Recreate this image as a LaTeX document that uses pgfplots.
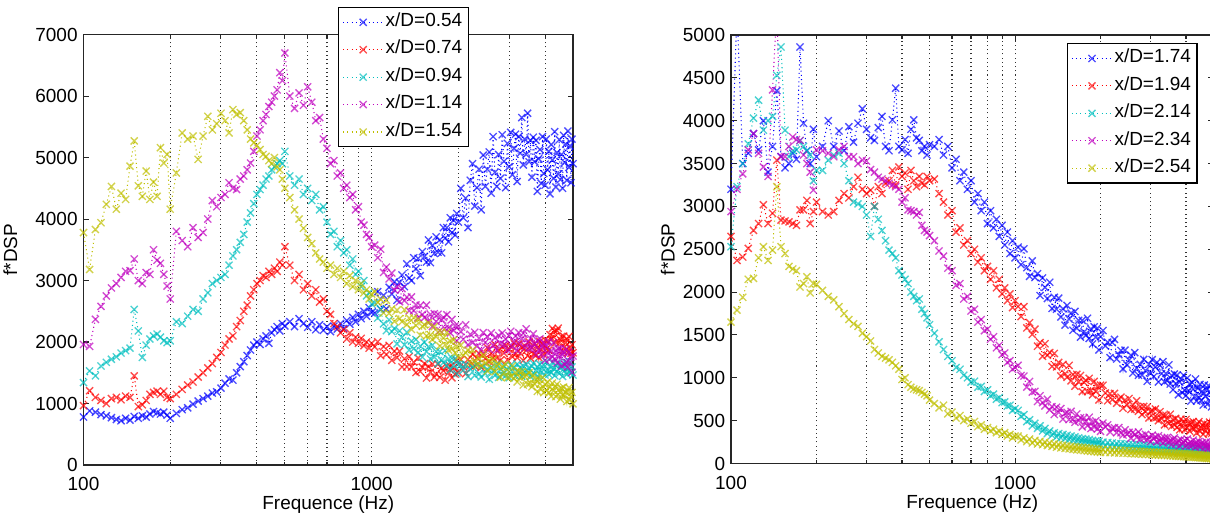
\documentclass[border=0pt]{standalone}
\usepackage{fontspec}
\setmainfont{Liberation Sans}
\usepackage{pgfplots}
\usepackage{pgfplotstable}
\pgfplotsset{compat=1.18}
\definecolor{mb}{rgb}{0,0,1}
\definecolor{mr}{rgb}{1,0,0}
\definecolor{mc}{rgb}{0,0.75,0.75}
\definecolor{mm}{rgb}{0.75,0,0.75}
\definecolor{my}{rgb}{0.75,0.75,0}

\pgfplotstableread{
f b r c m y
100 780 965 1340 1960 3780
105 880 1208 1530 1930 3180
110 860 1100 1450 2370 3830
115 820 1050 1610 2580 3940
120 800 1000 1670 2750 4240
125 770 1080 1720 2880 4530
130 740 1100 1760 2950 4160
135 720 1060 1820 3050 4420
140 760 1120 1860 3150 4320
145 730 1100 1900 3160 4860
150 790 1450 2530 3350 5270
155 760 950 2180 3000 4540
160 800 980 1750 2950 4370
165 780 1050 1950 3130 4780
170 830 1150 2050 3100 4320
175 870 1180 2100 3500 4600
180 850 1200 2130 3330 4370
185 830 1150 2080 3280 5160
190 860 1200 2020 3100 4910
195 810 1100 1990 2910 5050
200 760 1080 2020 2700 4160
210 840 1150 2330 3800 4750
220 900 1230 2300 3650 5400
230 930 1300 2420 3550 5300
240 990 1350 2530 3860 5350
250 1040 1430 2500 3700 4970
260 1080 1500 2700 3780 5350
270 1120 1580 2800 4000 5670
280 1170 1650 2950 4300 5450
290 1190 1750 3000 4200 5550
300 1250 1830 3050 4350 5720
310 1330 1950 3100 4400 5600
320 1400 2050 3250 4590 5400
330 1380 2100 3400 4500 5780
340 1500 2250 3500 4480 5700
350 1600 2350 3620 4650 5730
360 1680 2500 3750 4700 5600
370 1780 2600 3950 4800 5450
380 1870 2750 4100 4910 5300
390 1950 2850 4250 5100 5240
400 2000 2950 4400 5350 5200
410 1960 3000 4480 5450 5130
420 2050 3080 4550 5600 5050
430 2100 3050 4650 5700 5020
440 1980 3150 4700 5830 4950
450 2150 3100 4800 5900 4900
460 2200 3200 4850 6000 5000
470 2250 3150 4900 6100 4850
480 2180 3300 4950 6380 4800
490 2300 3250 4900 6250 4650
500 2260 3550 5100 6700 4500
520 2330 3250 4700 6000 4350
540 2250 3000 4550 5800 4150
560 2380 3100 4650 6050 4000
580 2300 2850 4400 5850 3850
600 2240 2950 4500 6150 3700
620 2330 2750 4300 5900 3600
640 2200 2850 4400 5600 3450
660 2280 2650 4150 5650 3350
680 2190 2700 4200 5300 3300
700 2250 2500 3950 5150 3200
720 2170 2450 3750 4900 3250
740 2260 2300 3800 4950 3100
760 2210 2250 3550 4700 3200
780 2300 2150 3650 4750 3050
800 2220 2200 3450 4500 3150
820 2350 2050 3500 4550 2950
840 2290 2150 3250 4350 3080
860 2400 2000 3350 4400 2900
880 2330 2080 3100 4150 3000
900 2450 1980 3150 4200 2850
920 2380 2060 2900 3950 2950
940 2500 1940 3000 3900 2800
960 2420 2000 2750 3750 2850
980 2560 1900 2800 3700 2700
1000 2480 1980 2620 3550 2780
1025 2470 1922 2635 3576 2820
1050 2820 2004 2390 3370 2645
1075 2530 1778 2535 3510 2695
1100 2760 1926 2295 3132 2475
1125 2540 1798 2185 3218 2680
1150 2890 1946 2360 3026 2465
1175 2780 1702 2170 3122 2540
1200 2980 1850 2220 2844 2335
1225 2680 1746 1970 2902 2520
1250 2970 1852 2180 2656 2380
1275 3090 1594 2075 2868 2330
1300 2900 1728 1955 2674 2525
1325 3270 1596 2160 2730 2285
1350 3040 1763 1870 2508 2390
1375 3000 1594 2015 2734 2205
1400 3370 1672 1890 2512 2395
1425 3190 1503 2040 2604 2270
1450 3360 1740 1830 2392 2370
1475 3080 1520 1935 2596 2110
1500 3470 1589 1755 2448 2255
1525 3390 1649 1995 2396 2280
1550 3300 1415 1845 2600 2100
1575 3660 1601 1920 2340 2310
1600 3290 1507 1725 2448 2115
1625 3570 1642 1950 2252 2040
1650 3440 1427 1755 2461 2250
1675 3710 1478 1845 2334 2085
1700 3460 1641 1650 2452 2160
1725 3660 1426 1845 2186 1935
1750 3450 1578 1710 2357 2160
1775 3860 1534 1665 2400 2065
1800 3690 1380 1860 2222 1955
1825 3860 1608 1620 2444 2160
1850 3630 1501 1725 2232 1870
1875 4020 1604 1545 2148 2015
1900 3780 1418 1740 2368 1890
1925 3980 1582 1625 2188 2035
1950 3740 1478 1735 2264 1825
1975 4090 1695 1485 2020 1930
2000 3950 1504 1640 2256 1750
2040 4500 1715 1632 2167 1951
2080 4020 1600 1543 2045 1785
2120 4340 1485 1634 2280 1826
2160 3860 1715 1437 1954 1868
2200 4630 1615 1564 2126 1663
2240 4900 1800 1595 1990 1873
2280 4210 1610 1458 2159 1694
2320 4510 1742 1633 1932 1616
2360 4810 1815 1484 2062 1734
2400 4150 1587 1431 1869 1617
2440 5040 1810 1606 2152 1787
2480 4530 1732 1487 1993 1657
2520 4810 1910 1560 2089 1528
2560 5090 1682 1394 1881 1697
2600 4420 1815 1587 2148 1581
2640 5340 1745 1528 1947 1712
2680 4760 1960 1457 2068 1518
2720 4530 1740 1639 1867 1609
2760 5050 1865 1424 2107 1649
2800 4660 1705 1557 1974 1429
2840 5370 1920 1474 2146 1599
2880 4940 1820 1608 1962 1508
2920 4510 1945 1453 2049 1639
2960 5230 1710 1550 1865 1419
3000 4850 1880 1419 2105 1514
3040 5410 1925 1625 2175 1440
3080 4720 1760 1518 1923 1613
3120 5150 1985 1591 2010 1408
3160 5380 1805 1448 2098 1503
3200 4610 1745 1642 1862 1351
3240 5340 1970 1499 2153 1524
3280 5070 1820 1584 1968 1424
3320 5650 1910 1441 2056 1519
3360 4880 1700 1611 2143 1301
3400 5300 1940 1516 1907 1435
3440 5050 1865 1637 2215 1465
3480 5720 1775 1506 1998 1313
3520 4930 2004 1568 1900 1499
3560 5280 1738 1437 2057 1334
3600 4680 1907 1606 1908 1272
3640 5330 1806 1655 2133 1458
3680 4930 1975 1477 1967 1319
3720 5280 1784 1538 1801 1388
3760 4450 1908 1599 2026 1197
3800 4980 1747 1432 1877 1396
3840 5130 2006 1638 2051 1321
3880 4580 1875 1507 1800 1234
3920 5340 1969 1568 1924 1420
3960 4740 1792 1629 1984 1178
4000 4550 2035 1463 1704 1313
4040 5300 1885 1680 1934 1215
4080 4800 2020 1536 1824 1350
4120 5100 1870 1476 2003 1173
4160 4410 2120 1596 1724 1269
4200 5210 2040 1500 1852 1118
4240 4960 2220 1668 1759 1331
4280 4660 2085 1560 1989 1207
4320 5420 2180 1452 1726 1277
4360 4520 1995 1620 1854 1113
4400 5080 2185 1524 1660 1313
4440 4730 2225 1656 1890 1149
4480 5290 1980 1488 1763 1232
4520 4640 2035 1584 1891 1072
4560 5050 2090 1632 1610 1250
4600 4500 1850 1440 1789 1141
4640 5360 2095 1608 1831 1267
4680 4920 1920 1536 1636 1120
4720 5220 1985 1668 1883 1181
4760 4630 2050 1476 1670 1033
4800 5430 1830 1572 1594 1211
4840 4840 2090 1512 1840 1259
4880 5190 1900 1680 1662 1060
4920 4590 1815 1500 1755 1120
4960 5300 1955 1596 1509 1181
5000 4900 1825 1464 1772 995
}\leftdata

\pgfplotstableread{
f b r c m y
100 3200 2650 2530 2940 1650
105 5300 2370 3230 3200 1790
110 3500 2410 3500 3380 1940
115 3620 2510 3730 3660 2150
120 3850 2720 4030 3850 2160
125 3660 2800 4240 3620 2400
130 4000 3020 3890 3460 2530
135 3400 2800 4000 3350 2370
140 3700 2920 4050 4360 2490
145 4350 3540 4530 5300 3230
150 3580 2840 4860 3580 2530
155 3450 2830 3890 3580 2450
160 3500 2820 3580 3700 2300
165 3620 2800 3650 3810 2270
170 3550 2780 3660 3780 2250
175 4860 2960 3770 3770 2060
180 3970 2960 3700 3600 2100
185 3650 3070 3650 3500 2180
190 3500 2800 3600 3400 1990
195 3900 2940 3300 3190 2100
200 3580 3050 3420 3660 2090
210 3700 2940 3420 3650 2020
220 4000 2900 3540 3620 1950
230 3700 2940 3600 3580 1910
240 3880 3070 3620 3660 1830
250 3650 3150 3500 3700 1750
260 3930 3100 3300 3580 1680
270 3750 3230 3050 3580 1630
280 3970 3340 3030 3500 1600
290 4140 3200 3000 3540 1520
300 3900 3150 2900 3530 1480
310 3800 3190 2650 3430 1430
320 3770 3000 3000 3400 1330
330 3920 3230 2850 3340 1290
340 4050 3150 2720 3320 1250
350 3700 3270 2600 3300 1230
360 3650 3300 2490 3270 1210
370 4010 3420 2450 3250 1180
380 4380 3250 2400 3230 1140
390 3700 3460 2250 3200 1100
400 3660 3350 2200 3050 980
410 3780 3390 2150 3100 1000
420 3620 3200 2100 2960 920
430 3900 3420 2000 2950 890
440 4010 3300 1950 2940 870
450 3800 3230 1900 2900 860
460 3770 3350 1920 2930 850
470 3650 3270 1800 2780 830
480 3700 3250 1750 2720 810
490 3600 3350 1700 2700 790
500 3720 3300 1620 2660 740
520 3700 3320 1520 2600 700
540 3780 3150 1420 2480 650
560 3600 3050 1330 2420 680
580 3700 2900 1250 2280 580
600 3450 2950 1200 2250 600
620 3550 2700 1120 2080 530
640 3300 2750 1100 2100 560
660 3400 2550 1030 1920 500
680 3200 2600 1000 1950 520
700 3300 2450 950 1780 470
720 3050 2500 960 1800 490
740 3150 2350 890 1650 430
760 2950 2400 900 1680 450
780 3050 2250 840 1550 400
800 2800 2300 860 1570 420
820 2950 2150 790 1450 380
840 2750 2250 810 1480 400
860 2850 2050 750 1350 360
880 2650 2150 770 1380 380
900 2780 1980 710 1270 340
920 2550 2050 720 1290 360
940 2700 1900 670 1180 320
960 2450 1980 680 1200 340
980 2600 1820 620 1100 300
1000 2400 1900 640 1120 320
1025 2525 1831 620 1146 320
1050 2320 1715 550 1028 275
1075 2505 1830 570 1020 300
1100 2285 1582 490 891 255
1125 2185 1643 510 958 285
1150 2365 1506 440 834 240
1175 2170 1567 470 843 270
1200 2215 1369 410 724 228
1225 1960 1412 440 792 260
1250 2165 1251 380 711 220
1275 2055 1398 410 672 250
1300 1925 1264 350 750 210
1325 2115 1295 380 625 240
1350 1810 1133 330 664 200
1375 1940 1284 360 572 230
1400 1800 1127 310 657 190
1425 1930 1179 350 596 222
1450 1710 1022 300 641 182
1475 1805 1156 340 519 215
1500 1615 1048 290 586 176
1525 1845 1006 330 598 208
1550 1685 1145 280 512 170
1575 1755 965 320 609 202
1600 1555 1038 270 517 165
1625 1775 902 310 481 196
1650 1580 1041 260 578 160
1675 1670 951 300 500 192
1700 1475 1027 250 534 155
1725 1670 839 290 428 188
1750 1535 948 245 533 150
1775 1495 970 285 491 184
1800 1695 839 240 442 146
1825 1460 994 280 540 180
1850 1570 853 235 408 142
1875 1395 801 270 480 176
1900 1595 958 230 426 138
1925 1475 841 265 498 172
1950 1580 901 225 403 134
1975 1325 742 260 455 168
2000 1480 914 220 375 130
2040 1552 913 250 472 165
2080 1372 823 205 428 130
2120 1416 732 245 452 162
2160 1236 816 200 367 128
2200 1412 745 240 410 160
2240 1449 819 195 417 125
2280 1219 704 235 359 158
2320 1270 754 190 420 122
2360 1320 774 232 358 155
2400 1105 645 188 333 120
2440 1323 740 228 393 153
2480 1150 685 185 341 118
2520 1207 759 225 364 150
2560 1264 630 180 296 115
2600 1055 682 222 364 148
2640 1294 635 178 338 113
2680 1113 732 220 305 146
2720 1030 610 175 369 110
2760 1157 662 218 284 144
2800 1032 571 172 329 108
2840 1215 667 215 293 142
2880 1085 606 170 340 106
2920 959 660 212 278 140
2960 1160 531 168 311 104
3000 1053 606 210 257 138
3040 1212 622 165 331 102
3080 1016 531 208 287 136
3120 1126 636 163 312 100
3160 1179 537 205 254 134
3200 952 500 160 324 98
3240 1145 605 205 266 132
3280 1048 524 158 296 96
3320 1189 562 202 240 130
3360 952 451 155 300 94
3400 1051 564 200 262 128
3440 968 521 153 305 92
3480 1151 468 198 253 126
3520 928 575 150 273 90
3560 1028 433 195 221 124
3600 861 510 148 283 88
3640 1044 450 192 299 122
3680 933 527 145 228 86
3720 1032 422 190 248 120
3760 802 479 143 269 84
3800 950 393 188 205 118
3840 986 518 140 280 82
3880 826 447 185 229 116
3920 1030 490 138 250 80
3960 856 396 182 271 114
4000 794 514 135 206 78
4040 998 420 180 286 112
4080 852 470 133 230 76
4120 930 377 178 206 110
4160 728 479 130 250 74
4200 946 416 175 212 108
4240 870 488 128 274 72
4280 781 404 172 231 106
4320 986 440 125 188 70
4360 729 356 170 250 104
4400 877 461 123 211 68
4440 774 489 168 259 102
4480 923 375 120 194 66
4520 736 411 165 228 100
4560 843 447 118 244 64
4600 683 341 162 170 98
4640 916 468 115 232 62
4680 785 383 160 203 96
4720 864 420 113 251 60
4760 691 456 158 176 94
4800 909 349 110 211 58
4840 736 483 155 184 92
4880 832 391 108 246 56
4920 662 351 152 177 90
4960 856 425 105 213 54
5000 742 362 140 162 80
}\rightdata

\tikzset{
  mlline/.style={line width=0.3pt, dash pattern=on 0.3pt off 0.9pt,
    mark=x, mark size=0.5mm, mark options={solid, line width=0.38pt, opacity=0.7}},
  mlgrid/.style={black!80, line width=0.3pt, dash pattern=on 0.3pt off 0.9pt},
}

\begin{document}
\begin{tikzpicture}
\begin{axis}[
  scale only axis, anchor=south west,
  at={(8.35mm,5.6mm)}, width=48.95mm, height=43.05mm,
  xmode=log, xmin=100, xmax=5000, ymin=0, ymax=7000,
  ytick={0,1000,2000,3000,4000,5000,6000,7000},
  xtick={100,1000}, xticklabels={100,1000},
  minor xtick={200,300,400,500,600,700,800,900,2000,3000,4000},
  xmajorgrids=true, xminorgrids=true,
  major grid style={mlgrid}, minor grid style={mlgrid},
  axis line style={black!85, line width=0.35pt},
  tick align=inside, major tick length=0.55mm, minor tick length=0.35mm,
  every tick/.style={black!85, line width=0.3pt},
  tick label style={font=\fontsize{5.4}{6.2}\selectfont},
  yticklabel style={xshift=0.65mm},
  label style={font=\fontsize{5.4}{6.2}\selectfont},
  /pgf/number format/assume math mode=true,
  /pgf/number format/1000 sep={},
  scaled y ticks=false,
  xlabel={Frequence (Hz)}, ylabel={f*DSP},
  xlabel shift=-1.9mm, ylabel shift=-0.6mm,
  legend cell align=left,
  legend image code/.code={\draw[mark repeat=2,mark phase=2,#1] plot coordinates {(0mm,0mm) (2mm,0mm) (4mm,0mm)};},
  legend style={draw=black, line width=0.35pt, fill=white,
    font=\fontsize{5.4}{6.2}\selectfont, row sep=0pt,
    inner xsep=0.4mm, inner ysep=0.1mm,
    nodes={inner xsep=0.2mm, inner ysep=0.42mm},
    at={(0.52,1.064)}, anchor=north west},
  ]
\addplot[mb, mlline] table[x=f,y=b]{\leftdata};
\addlegendentry{x/D=0.54}
\addplot[mr, mlline] table[x=f,y=r]{\leftdata};
\addlegendentry{x/D=0.74}
\addplot[mc, mlline] table[x=f,y=c]{\leftdata};
\addlegendentry{x/D=0.94}
\addplot[mm, mlline] table[x=f,y=m]{\leftdata};
\addlegendentry{x/D=1.14}
\addplot[my, mlline] table[x=f,y=y]{\leftdata};
\addlegendentry{x/D=1.54}
\end{axis}

\begin{axis}[
  scale only axis, anchor=south west,
  at={(73.1mm,5.75mm)}, width=48.25mm, height=42.85mm,
  xmode=log, xmin=100, xmax=5000, ymin=0, ymax=5000,
  ytick={0,500,1000,1500,2000,2500,3000,3500,4000,4500,5000},
  xtick={100,1000}, xticklabels={100,1000},
  minor xtick={200,300,400,500,600,700,800,900,2000,3000,4000},
  xmajorgrids=true, xminorgrids=true,
  major grid style={mlgrid}, minor grid style={mlgrid},
  axis line style={black!85, line width=0.35pt},
  tick align=inside, major tick length=0.55mm, minor tick length=0.35mm,
  every tick/.style={black!85, line width=0.3pt},
  tick label style={font=\fontsize{5.4}{6.2}\selectfont},
  yticklabel style={xshift=0.65mm},
  label style={font=\fontsize{5.4}{6.2}\selectfont},
  /pgf/number format/assume math mode=true,
  /pgf/number format/1000 sep={},
  scaled y ticks=false,
  xlabel={Frequence (Hz)}, ylabel={f*DSP},
  xlabel shift=-1.9mm, ylabel shift=-1.6mm,
  legend cell align=left,
  legend image code/.code={\draw[mark repeat=2,mark phase=2,#1] plot coordinates {(0mm,0mm) (2mm,0mm) (4mm,0mm)};},
  legend style={draw=black, line width=0.35pt, fill=white,
    font=\fontsize{5.4}{6.2}\selectfont, row sep=0pt,
    inner xsep=0.4mm, inner ysep=0.1mm,
    nodes={inner xsep=0.2mm, inner ysep=0.42mm},
    at={(0.696,0.981)}, anchor=north west},
  ]
\addplot[mb, mlline] table[x=f,y=b]{\rightdata};
\addlegendentry{x/D=1.74}
\addplot[mr, mlline] table[x=f,y=r]{\rightdata};
\addlegendentry{x/D=1.94}
\addplot[mc, mlline] table[x=f,y=c]{\rightdata};
\addlegendentry{x/D=2.14}
\addplot[mm, mlline] table[x=f,y=m]{\rightdata};
\addlegendentry{x/D=2.34}
\addplot[my, mlline] table[x=f,y=y]{\rightdata};
\addlegendentry{x/D=2.54}
\end{axis}
\pgfresetboundingbox
\path[use as bounding box] (0,0) rectangle (121mm,52.1mm);
\end{tikzpicture}
\end{document}
